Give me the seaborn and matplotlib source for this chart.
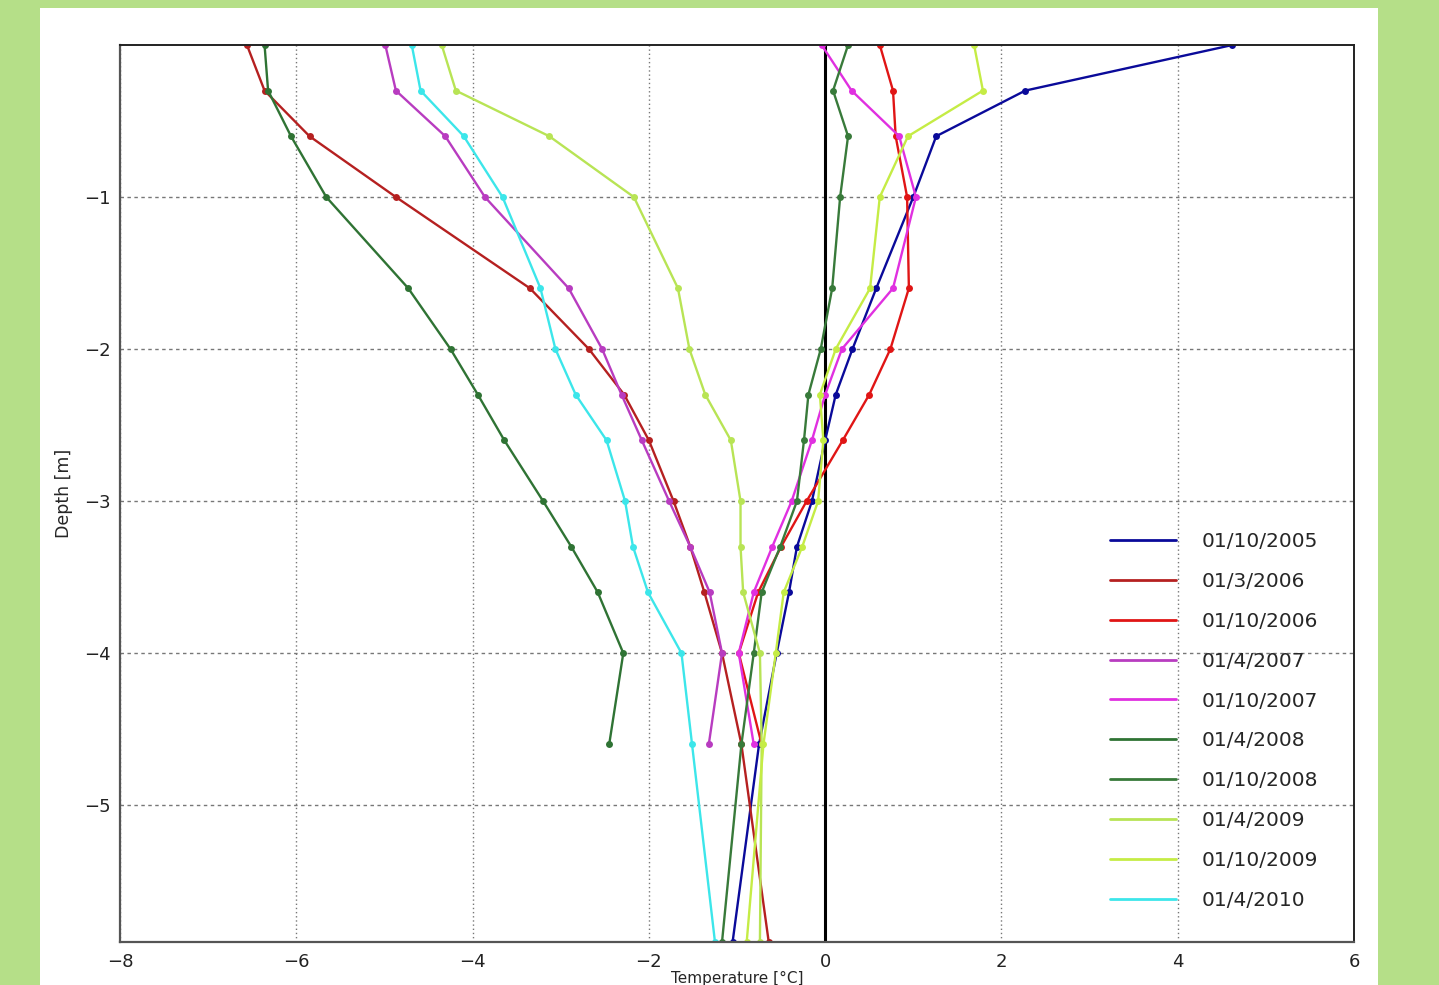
import numpy as np
import pandas as pd
import matplotlib
matplotlib.use('Agg')
import matplotlib.pyplot as plt
import seaborn as sns
from matplotlib.lines import Line2D
from matplotlib.patches import Rectangle

# profondeurs des capteurs (m)
depths = [0.0, -0.3, -0.6, -1.0, -1.6, -2.0, -2.3, -2.6, -3.0, -3.3, -3.6, -4.0, -4.6, -5.9]

dates = ['01/10/2005', '01/3/2006', '01/10/2006', '01/4/2007', '01/10/2007',
         '01/4/2008', '01/10/2008', '01/4/2009', '01/10/2009', '01/4/2010']

# temperatures (degC)
t_2005_10 = [4.62, 2.27, 1.26, 1.00, 0.58, 0.31, 0.12, 0.00, -0.15, -0.32, -0.41, -0.55, -0.75, -1.05]
t_2006_03 = [-6.56, -6.36, -5.85, -4.87, -3.35, -2.68, -2.28, -2.00, -1.72, -1.53, -1.37, -1.17, -0.95, -0.64]
t_2006_10 = [0.62, 0.77, 0.80, 0.93, 0.95, 0.74, 0.50, 0.20, -0.21, -0.50, -0.76, -0.98, -0.72]
t_2007_04 = [-4.99, -4.87, -4.31, -3.86, -2.91, -2.53, -2.31, -2.08, -1.77, -1.53, -1.31, -1.17, -1.32]
t_2007_10 = [-0.04, 0.30, 0.84, 1.03, 0.77, 0.19, 0.00, -0.15, -0.38, -0.60, -0.81, -0.98, -0.81]
t_2008_04 = [-6.36, -6.32, -6.06, -5.66, -4.73, -4.25, -3.94, -3.64, -3.20, -2.88, -2.58, -2.29, -2.45]
t_2008_10 = [0.26, 0.09, 0.26, 0.17, 0.08, -0.05, -0.19, -0.24, -0.32, -0.51, -0.72, -0.81, -0.95, -1.17]
t_2009_04 = [-4.35, -4.19, -3.13, -2.17, -1.67, -1.54, -1.36, -1.07, -0.96, -0.96, -0.93, -0.74, -0.72, -0.74]
t_2009_10 = [1.69, 1.79, 0.94, 0.62, 0.51, 0.12, -0.06, -0.02, -0.08, -0.26, -0.47, -0.56, -0.70, -0.89]
t_2010_04 = [-4.69, -4.59, -4.10, -3.66, -3.23, -3.06, -2.83, -2.48, -2.27, -2.18, -2.01, -1.63, -1.51, -1.25]

profiles = [t_2005_10, t_2006_03, t_2006_10, t_2007_04, t_2007_10,
            t_2008_04, t_2008_10, t_2009_04, t_2009_10, t_2010_04]

colors = ['#0a0a9a', '#b52020', '#e01515', '#b83cc0', '#e030e0',
          '#2f7334', '#387a3a', '#b8e455', '#c5ec45', '#3ce6ea']

rows = []
for d, temps in zip(dates, profiles):
    for t, z in zip(temps, depths):
        rows.append({'date': d, 'temp': t, 'depth': z})
df = pd.DataFrame(rows)

sns.set_style('white')
plt.rcParams['font.family'] = ['DejaVu Sans']

fig = plt.figure(figsize=(14.39, 9.85), dpi=100, facecolor='#b5df88')
# panneau blanc derriere le graphique
fig.patches.append(Rectangle((40 / 1439, 0), 1338 / 1439, 977 / 985,
                             transform=fig.transFigure, facecolor='white',
                             edgecolor='none', zorder=-10))
ax = fig.add_axes([120 / 1439, 1 - 942 / 985, 1234 / 1439, 897 / 985])
ax.set_zorder(5)
ax.set_facecolor('white')

ax.axvline(0, color='black', linewidth=2.2, zorder=1.5)

sns.lineplot(data=df, x='temp', y='depth', hue='date', hue_order=dates,
             palette=colors, marker='o', markersize=5, markeredgewidth=0,
             linewidth=1.7, sort=False, estimator=None, orient='y',
             legend=False, ax=ax)

ax.set_xlim(-8, 6)
ax.set_ylim(-5.9, 0)
ax.set_xticks(np.arange(-8, 7, 2))
ax.set_yticks([-5, -4, -3, -2, -1])
ax.tick_params(axis='both', length=0, labelsize=13, colors='#222222')
ax.tick_params(axis='x', pad=8)
ax.tick_params(axis='y', pad=7)

ax.xaxis.grid(True, color='#777777', linestyle=(0, (1, 2)), linewidth=1)
ax.yaxis.grid(True, color='#777777', linestyle=(0, (2.5, 2.5)), linewidth=1)
ax.set_axisbelow(True)

for side in ['left', 'bottom']:
    ax.spines[side].set_color('#555555')
    ax.spines[side].set_linewidth(1.6)
for side in ['top', 'right']:
    ax.spines[side].set_color('#222222')
    ax.spines[side].set_linewidth(1.4)

ax.set_xlabel('Temperature [°C]', fontsize=11, labelpad=0)
ax.set_ylabel('Depth [m]', fontsize=12.5, labelpad=8)

handles = [Line2D([0], [0], color=c, linewidth=2) for c in colors]
ax.legend(handles, dates, loc='center left', bbox_to_anchor=(0.8023, 0.2464),
          frameon=False, fontsize=14.5, handlelength=3.3, handletextpad=1.25,
          labelspacing=1.04, borderpad=0, borderaxespad=0)

fig.savefig('out.png', dpi=100, facecolor=fig.get_facecolor())
